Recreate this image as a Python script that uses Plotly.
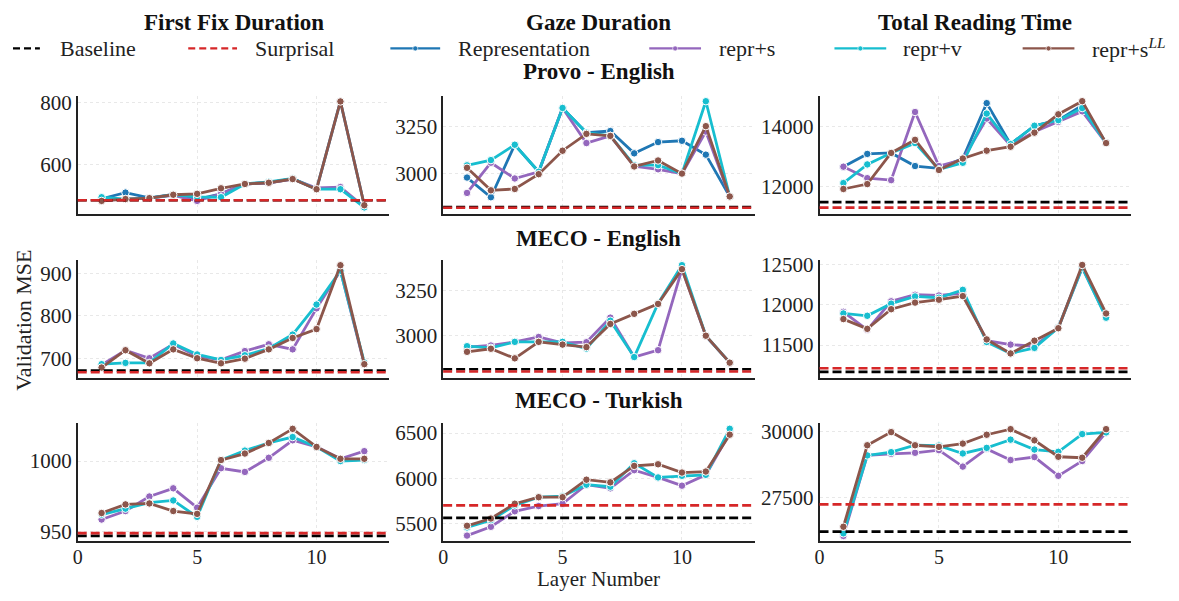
import plotly.graph_objects as go
from plotly.subplots import make_subplots

# ---------------- data ----------------
layers = [1, 2, 3, 4, 5, 6, 7, 8, 9, 10, 11, 12]
measures = ["First Fix Duration", "Gaze Duration", "Total Reading Time"]
datasets = ["Provo - English", "MECO - English", "MECO - Turkish"]
series_names = ["Representation", "repr+s", "repr+v", "repr+s<sup><i>LL</i></sup>"]

# Provo - English
provo_ffd_repr = [488, 508, 491, 502, 486, 504, 536, 540, 553, 519, 804, 467]
provo_ffd_rs = [483, 487, 490, 499, 481, 504, 536, 540, 552, 523, 526, 462]
provo_ffd_rv = [493, 487, 490, 501, 494, 493, 536, 543, 554, 519, 519, 460]
provo_ffd_rsll = [481, 487, 490, 501, 504, 522, 536, 540, 552, 519, 804, 467]
provo_gd_repr = [2979, 2874, 3154, 3010, 3350, 3218, 3227, 3108, 3168, 3175, 3101, 2878]
provo_gd_rs = [2897, 3058, 2974, 3010, 3350, 3163, 3201, 3040, 3023, 3000, 3224, 2878]
provo_gd_rv = [3044, 3072, 3154, 3010, 3350, 3218, 3201, 3045, 3045, 3000, 3386, 2878]
provo_gd_rsll = [3031, 2911, 2918, 2997, 3122, 3212, 3201, 3038, 3070, 3000, 3253, 2878]
provo_trt_repr = [12667, 13093, 13126, 12689, 12612, 12940, 14787, 13421, 14033, 14219, 14711, 13454]
provo_trt_rs = [12667, 12284, 12219, 14492, 12689, 12907, 14273, 13377, 13836, 14164, 14514, 13454]
provo_trt_rv = [12120, 12743, 13126, 13454, 12580, 12798, 14438, 13421, 14033, 14219, 14623, 13454]
provo_trt_rsll = [11923, 12087, 13126, 13563, 12557, 12940, 13202, 13334, 13803, 14415, 14853, 13454]

# MECO - English
meco_en_ffd_rs = [684, 719, 700, 733, 705, 696, 717, 733, 721, 818, 907, 686]
meco_en_ffd_rv = [686, 689, 689, 735, 709, 696, 707, 723, 756, 827, 907, 690]
meco_en_ffd_rsll = [678, 719, 688, 721, 700, 688, 699, 721, 748, 769, 920, 686]
meco_en_gd_rs = [2937, 2946, 2966, 2993, 2960, 2964, 3100, 2882, 2920, 3368, 2998, 2851]
meco_en_gd_rv = [2942, 2933, 2966, 2966, 2966, 2929, 3083, 2882, 3178, 3390, 3000, 2851]
meco_en_gd_rsll = [2911, 2928, 2875, 2966, 2951, 2937, 3065, 3121, 3176, 3368, 3000, 2851]
meco_en_trt_rs = [11914, 11690, 12045, 12127, 12118, 12147, 11555, 11506, 11486, 11718, 12465, 11853]
meco_en_trt_rv = [11894, 11865, 12016, 12106, 12090, 12188, 11539, 11396, 11465, 11718, 12465, 11841]
meco_en_trt_rsll = [11824, 11702, 11947, 12029, 12065, 12110, 11571, 11396, 11555, 11710, 12498, 11894]

# MECO - Turkish
meco_tr_ffd_rs = [958.6, 964.6, 974.9, 980.7, 967.0, 994.9, 992.3, 1002.3, 1014.7, 1010.0, 1001.6, 1007.0]
meco_tr_ffd_rv = [962.1, 966.3, 970.5, 972.1, 960.5, 1000.7, 1007.4, 1012.8, 1017.0, 1010.0, 1000.0, 1000.7]
meco_tr_ffd_rsll = [963.2, 969.3, 970.0, 964.6, 962.6, 1000.7, 1005.3, 1012.8, 1022.8, 1010.0, 1001.6, 1001.6]
meco_tr_gd_rs = [5370, 5467, 5638, 5696, 5721, 5931, 5891, 6091, 6011, 5920, 6040, 6500]
meco_tr_gd_rv = [5460, 5540, 5703, 5793, 5804, 5931, 5909, 6167, 6011, 6029, 6040, 6547]
meco_tr_gd_rsll = [5478, 5558, 5721, 5793, 5793, 5986, 5957, 6138, 6156, 6065, 6076, 6482]
meco_tr_trt_rs = [26064, 29097, 29158, 29196, 29295, 28676, 29344, 28923, 29035, 28329, 28886, 29963]
meco_tr_trt_rv = [26163, 29097, 29220, 29480, 29468, 29171, 29381, 29691, 29319, 29233, 29901, 29963]
meco_tr_trt_rsll = [26411, 29480, 29975, 29480, 29418, 29542, 29876, 30087, 29666, 29047, 29010, 30087]

# reference lines (FFD, GD, TRT)
baseline_provo = [483, 2822, 11486]
surprisal_provo = [483, 2818, 11300]
baseline_meco_en = [671, 2815, 11167]
surprisal_meco_en = [667, 2802, 11212]
baseline_meco_tr = [947, 5565, 26225]
surprisal_meco_tr = [949, 5703, 27253]

# ---------------- styling ----------------
FONT = "Liberation Serif"
C_BASE, C_SURP = "#000000", "#d62728"
series_colors = ["#1f77b4", "#9467bd", "#17becf", "#8c564b"]

panels = [
    [[provo_ffd_repr, provo_ffd_rs, provo_ffd_rv, provo_ffd_rsll],
     [provo_gd_repr, provo_gd_rs, provo_gd_rv, provo_gd_rsll],
     [provo_trt_repr, provo_trt_rs, provo_trt_rv, provo_trt_rsll]],
    [[None, meco_en_ffd_rs, meco_en_ffd_rv, meco_en_ffd_rsll],
     [None, meco_en_gd_rs, meco_en_gd_rv, meco_en_gd_rsll],
     [None, meco_en_trt_rs, meco_en_trt_rv, meco_en_trt_rsll]],
    [[None, meco_tr_ffd_rs, meco_tr_ffd_rv, meco_tr_ffd_rsll],
     [None, meco_tr_gd_rs, meco_tr_gd_rv, meco_tr_gd_rsll],
     [None, meco_tr_trt_rs, meco_tr_trt_rv, meco_tr_trt_rsll]],
]
baselines = [baseline_provo, baseline_meco_en, baseline_meco_tr]
surprisals = [surprisal_provo, surprisal_meco_en, surprisal_meco_tr]

y_ranges = [[[440, 823], [2787, 3416], [11104, 15039]],
            [[654, 933], [2768, 3420], [11094, 12563]],
            [[943.5, 1027], [5312, 6612], [25879, 30322]]]
y_dticks = [[200, 250, 2000], [100, 250, 500], [50, 500, 2500]]

# page has an 8px body margin: figure fills the rest of the 1179x601 window
OFF = 8
W, H = 1179 - 2 * OFF, 601 - 2 * OFF


def px(xp):
    return (xp - OFF) / W


def py(yp):
    return 1 - (yp - OFF) / H


col_px = [(73, 386), (440, 753), (818, 1131)]
row_px = [(90, 210), (257, 377), (423, 543)]

fig = make_subplots(rows=3, cols=3)

for r in range(3):
    for c in range(3):
        idx = r * 3 + c + 1
        xa = "x" if idx == 1 else f"x{idx}"
        ya = "y" if idx == 1 else f"y{idx}"
        for val, col in ((baselines[r][c], C_BASE), (surprisals[r][c], C_SURP)):
            fig.add_shape(type="line", xref=f"{xa} domain", yref=ya,
                          x0=0, x1=1, y0=val, y1=val,
                          line=dict(color=col, width=2.6, dash="9px,4px"))
        for s, ys in enumerate(panels[r][c]):
            if ys is None:
                continue
            fig.add_trace(go.Scatter(
                x=layers, y=ys, mode="lines+markers",
                line=dict(color=series_colors[s], width=2.8),
                marker=dict(color=series_colors[s], size=7.5,
                            line=dict(color="white", width=1)),
                showlegend=False, cliponaxis=False, name=series_names[s]),
                row=r + 1, col=c + 1)
        xd = [px(col_px[c][0]), px(col_px[c][1])]
        yd = [py(row_px[r][1]), py(row_px[r][0])]
        fig.update_xaxes(domain=xd, range=[0, 13.05], dtick=5, tick0=0,
                         showticklabels=(r == 2), ticklabelstandoff=-3, showgrid=True,
                         gridcolor="#e8e8e8", griddash="dot", gridwidth=1,
                         showline=True, linecolor="#222", linewidth=1.5,
                         zeroline=False, ticks="",
                         tickfont=dict(family=FONT, size=20, color="#222"),
                         row=r + 1, col=c + 1)
        fig.update_yaxes(domain=yd, range=y_ranges[r][c], dtick=y_dticks[r][c],
                         tick0=0, tickformat="d", showgrid=True, gridcolor="#e8e8e8",
                         griddash="dot", gridwidth=1,
                         showline=True, linecolor="#222", linewidth=1.5,
                         zeroline=False, ticks="",
                         tickfont=dict(family=FONT, size=21, color="#222"),
                         row=r + 1, col=c + 1)

annotations = []
for c, m in enumerate(measures):
    cx = (col_px[c][0] + col_px[c][1]) / 2
    annotations.append(dict(text=f"<b>{m}</b>", x=px(cx), y=py(16), xref="paper",
                            yref="paper", showarrow=False, xanchor="center",
                            yanchor="middle", font=dict(family=FONT, size=23, color="#111")))
title_y = [65, 235, 400]
for r, d in enumerate(datasets):
    cx = (col_px[1][0] + col_px[1][1]) / 2
    annotations.append(dict(text=f"<b>{d}</b>", x=px(cx), y=py(title_y[r]), xref="paper",
                            yref="paper", showarrow=False, xanchor="center",
                            yanchor="middle", font=dict(family=FONT, size=23, color="#111")))
annotations.append(dict(text="Validation MSE", x=px(19), y=py(318), xref="paper",
                        yref="paper", showarrow=False, textangle=-90,
                        xanchor="center", yanchor="middle",
                        font=dict(family=FONT, size=22, color="#222")))
annotations.append(dict(text="Layer Number", x=px(596), y=py(582), xref="paper",
                        yref="paper", showarrow=False, xanchor="center",
                        yanchor="middle", font=dict(family=FONT, size=21, color="#222")))

# manual legend
legend_names = ["Baseline", "Surprisal"] + series_names
legend_colors = [C_BASE, C_SURP] + series_colors
legend_line = [(0, 35), (184, 233), (387, 437), (647, 699), (833, 885), (1022, 1074)]
legend_text = [53, 249, 453, 715, 900, 1090]
LY = 42
for i, name in enumerate(legend_names):
    x0, x1 = legend_line[i]
    dash = "7px,4px" if i < 2 else "solid"
    fig.add_shape(type="line", xref="paper", yref="paper", x0=px(max(x0, OFF)), x1=px(x1),
                  y0=py(LY), y1=py(LY), line=dict(color=legend_colors[i], width=2.4, dash=dash))
    if i >= 2:
        cx = (x0 + x1) / 2
        fig.add_shape(type="circle", xref="paper", yref="paper",
                      x0=px(cx - 2.5), x1=px(cx + 2.5),
                      y0=py(LY + 2.5), y1=py(LY - 2.5),
                      fillcolor=legend_colors[i], line=dict(color="white", width=0.6))
    annotations.append(dict(text=name, x=px(legend_text[i]), y=py(LY), xref="paper",
                            yref="paper", showarrow=False, xanchor="left",
                            yanchor="middle", font=dict(family=FONT, size=22, color="#222")))

fig.update_layout(width=W, height=H, margin=dict(l=0, r=0, t=0, b=0),
                  plot_bgcolor="white", paper_bgcolor="white",
                  annotations=annotations, showlegend=False,
                  font=dict(family=FONT))

fig.write_html("out.html")
